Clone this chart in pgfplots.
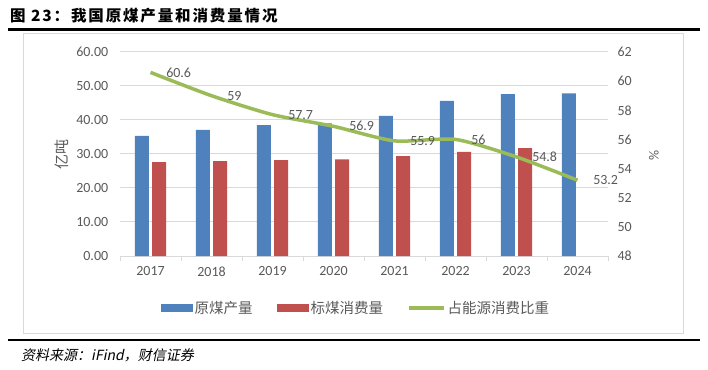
\documentclass[border=0pt]{standalone}
\usepackage{pgfplots}
\pgfplotsset{compat=1.18}
\usepackage{fontspec}
\setmainfont{Carlito}
\newfontfamily\cjk{Noto Sans CJK SC}
\newfontfamily\cjktitle{Noto Sans CJK SC}[LetterSpace=12]
\newfontfamily\cjkit{Noto Sans CJK SC}[FakeSlant=0.2]
\definecolor{cblue}{HTML}{4F81BD}
\definecolor{cred}{HTML}{C0504D}
\definecolor{cgreen}{HTML}{9BBB59}
\definecolor{cgrid}{HTML}{D9D9D9}
\definecolor{ctext}{HTML}{595959}
\begin{document}
\begin{tikzpicture}[x=1pt,y=1pt]
\path[use as bounding box] (0,0) rectangle (708,369);
% title and rules
\node[anchor=west, inner sep=0pt] at (10,353) {\fontsize{15.5}{17}\selectfont\cjktitle\bfseries 图 23：我国原煤产量和消费量情况};
\draw[black, line width=2.5pt] (8,339.5) -- (700,339.5);
\draw[cgrid, line width=1pt] (23,36) rectangle (683,335);
\draw[black, line width=2.5pt] (8,29) -- (700,29);
\node[anchor=west, inner sep=0pt] at (21,14) {\fontsize{14}{15}\selectfont\cjkit 资料来源：iFind，财信证券};
% axis titles
\node[rotate=90, text=ctext, inner sep=0pt] at (62,214) {\fontsize{15}{17}\selectfont\cjk 亿吨};
\node[rotate=90, text=ctext, inner sep=0pt] at (654,214) {\fontsize{14}{16}\selectfont \%};
\begin{axis}[
  at={(120pt,113pt)}, anchor=south west,
  width=488pt, height=204pt, scale only axis,
  xmin=-0.5, xmax=7.5, ymin=0, ymax=60,
  xtick={0,...,7},
  xticklabels={2017,2018,2019,2020,2021,2022,2023,2024},
  minor xtick={-0.5,0.5,...,7.5},
  major x tick style={draw=none},
  minor x tick style={cgrid, line width=1pt},
  minor tick length=5pt,
  tick align=outside,
  ytick={0,10,...,60},
  y tick style={draw=none},
  y tick label style={/pgf/number format/fixed, /pgf/number format/fixed zerofill, /pgf/number format/precision=2},
  ymajorgrids, grid style={cgrid, line width=1pt},
  axis x line*=bottom, axis y line*=left,
  y axis line style={draw=none},
  x axis line style={cgrid, line width=1pt, -},
  tick label style={font=\fontsize{14}{16}\selectfont, text=ctext},
  xticklabel style={yshift=-3pt},
  yticklabel style={xshift=-4pt},
  /pgf/number format/assume math mode=true,
  legend style={at={(0.4836,-0.255)}, anchor=center, draw=none, fill=none,
    font=\fontsize{14.5}{16}\selectfont\cjk, text=ctext,
    /tikz/every even column/.append style={column sep=22pt}},
  legend columns=3, legend cell align=left,
]
\addplot[ybar, bar width=14pt, bar shift=-8.7pt, fill=cblue, draw=none,
  legend image code/.code={\fill[cblue] (0pt,-3.8pt) rectangle (32pt,3.8pt);}]
  coordinates {(0,35.3) (1,37.1) (2,38.5) (3,39.0) (4,41.2) (5,45.6) (6,47.6) (7,47.8)};
\addlegendentry{原煤产量}
\addplot[ybar, bar width=14pt, bar shift=8.7pt, fill=cred, draw=none,
  legend image code/.code={\fill[cred] (0pt,-3.8pt) rectangle (32pt,3.8pt);}]
  coordinates {(0,27.6) (1,27.9) (2,28.2) (3,28.4) (4,29.4) (5,30.6) (6,31.7)};
\addlegendentry{标煤消费量}
\addlegendimage{legend image code/.code={\draw[cgreen, line width=3.5pt] (0pt,0pt) -- (35pt,0pt);}}
\addlegendentry{占能源消费比重}
\end{axis}
\begin{axis}[
  at={(120pt,113pt)}, anchor=south west,
  width=488pt, height=204pt, scale only axis,
  xmin=-0.5, xmax=7.5, ymin=48, ymax=62,
  ytick={48,50,...,62},
  axis y line*=right, axis x line=none,
  y axis line style={draw=none},
  y tick style={draw=none},
  tick label style={font=\fontsize{14}{16}\selectfont, text=ctext},
  yticklabel style={xshift=6pt},
  /pgf/number format/assume math mode=true,
  clip=false,
]
\addplot[cgreen, line width=3.5pt, smooth, tension=0.4,
  nodes near coords, point meta=explicit symbolic,
  every node near coord/.append style={anchor=west, xshift=14pt, inner sep=0pt,
    font=\fontsize{14}{16}\selectfont, text=ctext}]
  coordinates {(0,60.6) [60.6] (1,59) [59] (2,57.7) [57.7] (3,56.9) [56.9]
               (4,55.9) [55.9] (5,56) [56] (6,54.8) [54.8] (7,53.2) [53.2]};
\end{axis}
\end{tikzpicture}
\end{document}
